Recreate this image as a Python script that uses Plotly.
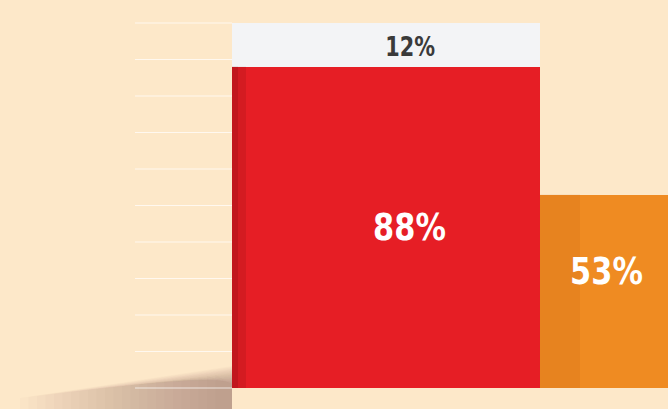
import plotly.graph_objects as go

# ---- data ----
categories = ["A", "B"]
main_values = [88, 53]          # red / orange parts
rest_values = [12, 0]           # white top part
label_main = ["88%", "53%"]
label_rest = ["12%", ""]
grid_values = list(range(0, 101, 10))

BG = "#fde8c9"
FONT = "DejaVu Sans, sans-serif"

# layout geometry (pixels -> axis)
W, H = 668, 409
bar_left_px, bar_split_px = 232, 540
unit_px = bar_split_px - bar_left_px
x0 = -0.5 - bar_left_px / unit_px
x1 = 0.5 + (W - bar_split_px) / unit_px
orange_w = x1 - 0.5
x_pos = [0.0, 0.5 + orange_w / 2]
widths = [1.0, orange_w]

zero_px, ppu = 388, 3.65
y_lo = -(H - zero_px) / ppu
y_hi = zero_px / ppu

fig = go.Figure()

fig.add_trace(go.Bar(
    x=x_pos, y=main_values, width=widths,
    marker=dict(color=["#e61e25", "#ef8b22"], line=dict(width=0)),
    hoverinfo="skip",
))
fig.add_trace(go.Bar(
    x=x_pos, y=rest_values, width=widths,
    marker=dict(color=["#f3f4f6", "#f3f4f6"], line=dict(width=0)),
    hoverinfo="skip",
))

# labels (perspective of the original pushes them slightly right / up)
annotations = []
main_shift = [(23, 0), (2, 20)]
for xp, v, lab, (dx, dy) in zip(x_pos, main_values, label_main, main_shift):
    annotations.append(dict(x=xp, y=v / 2, xref="x", yref="y", text=lab, showarrow=False,
                            xshift=dx, yshift=dy,
                            font=dict(family=FONT, size=38, color="white", weight="bold")))
for xp, v, r, lab in zip(x_pos, main_values, rest_values, label_rest):
    if lab:
        annotations.append(dict(x=xp, y=v + r / 2, xref="x", yref="y", text=lab, showarrow=False,
                                xshift=24, yshift=-2,
                                font=dict(family=FONT, size=26, color="#3a3a3a", weight="bold")))

shapes = []
# faint gridlines on the left of the bars
for g in grid_values:
    shapes.append(dict(type="line", xref="x", yref="y",
                       x0=x0 + 135 / unit_px, x1=-0.5, y0=g, y1=g,
                       line=dict(color="rgba(255,255,255,0.7)", width=1),
                       layer="below"))
# floor shadow (layered soft polygons)
n = 24
for i in range(n):
    xl = 20 + i * 8.5
    yt = 398 - i * 1.0
    shapes.append(dict(type="path", xref="paper", yref="paper",
                       path=f"M {xl/W} {1 - yt/H} L {bar_left_px/W} {1 - (366 + i*0.8)/H} L {bar_left_px/W} 0 L {xl/W} 0 Z",
                       fillcolor="rgba(110,95,70,0.022)", line=dict(width=0), layer="below"))
# darker left edge of red bar
shapes.append(dict(type="rect", xref="x", yref="y", x0=-0.5, x1=-0.5 + 14 / unit_px,
                   y0=0, y1=main_values[0], fillcolor="rgba(120,10,15,0.16)",
                   line=dict(width=0), layer="above"))
shapes.append(dict(type="rect", xref="x", yref="y", x0=-0.5, x1=-0.5 + 6 / unit_px,
                   y0=0, y1=main_values[0], fillcolor="rgba(120,10,15,0.2)",
                   line=dict(width=0), layer="above"))
# darker left part of orange bar
shapes.append(dict(type="rect", xref="x", yref="y", x0=0.5, x1=0.5 + 40 / unit_px,
                   y0=0, y1=main_values[1], fillcolor="rgba(170,70,10,0.10)",
                   line=dict(width=0), layer="above"))

fig.update_layout(
    width=W, height=H,
    margin=dict(l=0, r=0, t=0, b=0),
    paper_bgcolor=BG, plot_bgcolor=BG,
    barmode="stack", bargap=0,
    showlegend=False,
    shapes=shapes,
    annotations=annotations,
    xaxis=dict(range=[x0, x1], visible=False, fixedrange=True),
    yaxis=dict(range=[y_lo, y_hi], visible=False, fixedrange=True),
)

# condensed look for the labels (no condensed face installed)
post = (
    "document.body.style.margin='0';"
    "document.body.style.background='" + BG + "';"
    "document.querySelectorAll('text.annotation-text').forEach(function(t){"
    "var bb=t.getBBox();var cx=bb.x+bb.width/2;"
    "var tr=t.getAttribute('transform')||'';"
    "t.setAttribute('transform',tr+' translate('+cx+',0) scale(0.8,1) translate('+(-cx)+',0)');"
    "});"
)
fig.write_html("out.html", post_script=post, config={"displayModeBar": False, "staticPlot": True})
